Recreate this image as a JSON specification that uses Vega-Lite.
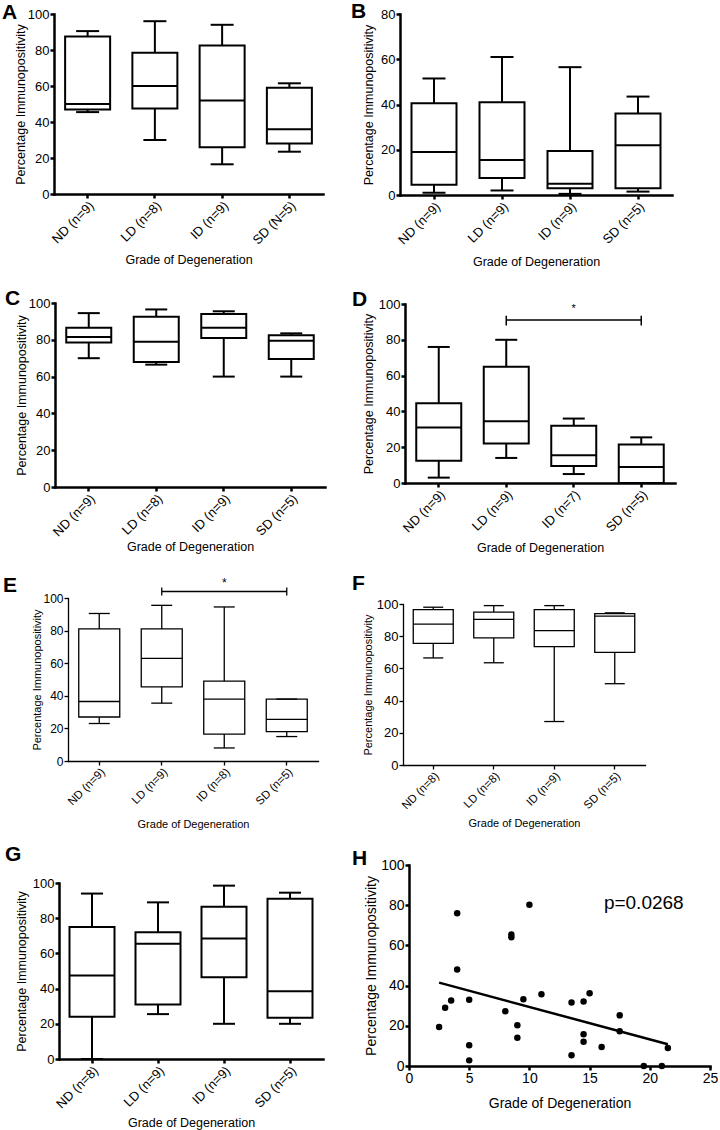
{
 "$schema": "https://vega.github.io/schema/vega-lite/v6.json",
 "background": "white",
 "padding": {"left": 2, "top": 0, "right": 0, "bottom": 0},
 "columns": 2,
 "spacing": {"row": 0, "column": 75},
 "bounds": "flush",
 "config": {
  "view": {"stroke": null},
  "axis": {"grid": false, "domainColor": "black", "tickColor": "black", "labelColor": "black", "titleColor": "black", "labelFont": "Liberation Sans", "titleFont": "Liberation Sans", "titleFontWeight": "normal", "domainWidth": 2.5, "tickWidth": 2.5, "tickSize": 4, "labelPadding": 1, "labelFlush": false, "labelOverlap": false, "labelBound": false, "labelLimit": 0, "domainCap": "square"},
  "text": {"font": "Liberation Sans"}
 },
 "datasets": {
  "boxes": [
   {"panel": "A", "group": "ND (n=9)", "min": 45.5, "q1": 47, "median": 50, "q3": 87.5, "max": 90.5},
   {"panel": "A", "group": "LD (n=8)", "min": 30, "q1": 47.5, "median": 60, "q3": 78.5, "max": 96},
   {"panel": "A", "group": "ID  (n=9)", "min": 16.5, "q1": 26, "median": 52, "q3": 82.5, "max": 94},
   {"panel": "A", "group": "SD (N=5)", "min": 23.5, "q1": 28, "median": 36, "q3": 59, "max": 61.5},
   {"panel": "B", "group": "ND (n=9)", "min": 1, "q1": 4.5, "median": 19, "q3": 40.5, "max": 51.5},
   {"panel": "B", "group": "LD (n=9)", "min": 2, "q1": 7.5, "median": 15.5, "q3": 41, "max": 61},
   {"panel": "B", "group": "ID (n=9)", "min": 0.5, "q1": 3, "median": 5, "q3": 19.5, "max": 56.5},
   {"panel": "B", "group": "SD (n=5)", "min": 1.5, "q1": 3, "median": 22, "q3": 36, "max": 43.5},
   {"panel": "C", "group": "ND (n=9)", "min": 70, "q1": 78.5, "median": 81.5, "q3": 86.5, "max": 94.5},
   {"panel": "C", "group": "LD (n=8)", "min": 66.5, "q1": 68, "median": 79, "q3": 92.5, "max": 96.5},
   {"panel": "C", "group": "ID (n=9)", "min": 60, "q1": 81, "median": 86.5, "q3": 94, "max": 95.5},
   {"panel": "C", "group": "SD (n=5)", "min": 60, "q1": 69.5, "median": 79.5, "q3": 82.5, "max": 83.5},
   {"panel": "D", "group": "ND (n=9)", "min": 3, "q1": 12.5, "median": 31, "q3": 44.5, "max": 76},
   {"panel": "D", "group": "LD (n=9)", "min": 14, "q1": 22, "median": 34.5, "q3": 65, "max": 80},
   {"panel": "D", "group": "ID (n=7)", "min": 5, "q1": 9.5, "median": 15.5, "q3": 32, "max": 36},
   {"panel": "D", "group": "SD (n=5)", "min": 0, "q1": 0, "median": 9, "q3": 21.5, "max": 25.5},
   {"panel": "E", "group": "ND (n=9)", "min": 23, "q1": 27, "median": 36.5, "q3": 81, "max": 90.5},
   {"panel": "E", "group": "LD  (n=9)", "min": 35.5, "q1": 45.5, "median": 63, "q3": 81, "max": 95.5},
   {"panel": "E", "group": "ID (n=8)", "min": 8, "q1": 16.5, "median": 38, "q3": 49, "max": 94.5},
   {"panel": "E", "group": "SD (n=5)", "min": 15, "q1": 18, "median": 25.5, "q3": 38, "max": 38},
   {"panel": "F", "group": "ND (n=8)", "min": 66.5, "q1": 75.5, "median": 87.5, "q3": 96.5, "max": 98},
   {"panel": "F", "group": "LD (n=8)", "min": 63.5, "q1": 79, "median": 90.5, "q3": 95, "max": 99},
   {"panel": "F", "group": "ID (n=9)", "min": 27, "q1": 73.5, "median": 83.5, "q3": 96.5, "max": 99},
   {"panel": "F", "group": "SD (n=5)", "min": 50.5, "q1": 70, "median": 92.5, "q3": 94, "max": 94.5},
   {"panel": "G", "group": "ND (n=8)", "min": 0, "q1": 24, "median": 47.5, "q3": 75, "max": 94},
   {"panel": "G", "group": "LD (n=9)", "min": 25.5, "q1": 31, "median": 65.5, "q3": 72, "max": 89},
   {"panel": "G", "group": "ID (n=9)", "min": 20, "q1": 46.5, "median": 68.5, "q3": 86.5, "max": 98.5},
   {"panel": "G", "group": "SD (n=5)", "min": 20, "q1": 23.5, "median": 38.5, "q3": 91, "max": 94.5}
  ],
  "brackets": [
   {"panel": "D", "a": "LD (n=9)", "b": "SD (n=5)", "mid": "ID (n=7)", "y": 91, "lo": 88, "hi": 93.5, "sy": 97},
   {"panel": "E", "a": "LD  (n=9)", "b": "SD (n=5)", "mid": "ID (n=8)", "y": 104, "lo": 101.5, "hi": 106.5, "sy": 109}
  ],
  "hpoints": [
   {"grade": 2.5, "pct": 19.4}, {"grade": 3, "pct": 29}, {"grade": 3.5, "pct": 32.6}, {"grade": 4, "pct": 76},
   {"grade": 4, "pct": 48}, {"grade": 5, "pct": 33}, {"grade": 5, "pct": 10.3}, {"grade": 5, "pct": 2.8},
   {"grade": 8, "pct": 27.2}, {"grade": 8.5, "pct": 65.4}, {"grade": 8.5, "pct": 64}, {"grade": 9, "pct": 20.3},
   {"grade": 9, "pct": 14}, {"grade": 9.5, "pct": 33.2}, {"grade": 10, "pct": 80.2}, {"grade": 11, "pct": 35.7},
   {"grade": 13.5, "pct": 31.6}, {"grade": 13.5, "pct": 5.3}, {"grade": 14.5, "pct": 32.1}, {"grade": 14.5, "pct": 15.8},
   {"grade": 14.5, "pct": 12.1}, {"grade": 15, "pct": 36.2}, {"grade": 16, "pct": 9.5}, {"grade": 17.5, "pct": 25.2},
   {"grade": 17.5, "pct": 17.3}, {"grade": 19.5, "pct": 0}, {"grade": 21, "pct": 0}, {"grade": 21.5, "pct": 9}
  ],
  "hline": [{"grade": 2.5, "pct": 41.5}, {"grade": 21.5, "pct": 10.8}],
  "hlabel": [{"grade": 19.5, "pct": 81, "label": "p=0.0268"}]
 },
 "concat": [
  {
   "width": 271, "height": 180,
   "title": {"text": "A", "anchor": "start", "frame": "group", "offset": 0, "baseline": "alphabetic", "dx": -52, "dy": 31.5, "fontSize": 21, "fontWeight": "bold", "font": "Liberation Sans", "color": "black"},
   "data": {"name": "boxes"},
   "transform": [{"filter": "datum.panel === 'A'"}],
   "encoding": {
    "x": {"field": "group", "type": "nominal", "title": "Grade of Degeneration",
     "scale": {"domain": ["ND (n=9)", "LD (n=8)", "ID  (n=9)", "SD (N=5)"], "range": [0, 269], "paddingInner": 0, "paddingOuter": 0},
     "axis": {"labelAngle": -45, "labelFontSize": 13, "titleFontSize": 12.5, "titlePadding": 7, "labelOverlap": false}},
    "y": {"field": "min", "type": "quantitative", "title": "Percentage Immunopositivity", "scale": {"domain": [0, 100], "range": [180, 0], "nice": false}, "axis": {"tickCount": 5, "offset": 0, "labelFontSize": 13, "titleFontSize": 12.5, "titlePadding": 0, "labelOverlap": false}}
   },
   "layer": [
    {"mark": {"type": "rule", "color": "black", "strokeWidth": 2},
     "encoding": {"y2": {"field": "max"}}},
    {"mark": {"type": "bar", "fill": "white", "stroke": "black", "strokeWidth": 2, "width": 45},
     "encoding": {"y": {"field": "q1", "type": "quantitative", "title": "Percentage Immunopositivity", "axis": {"tickCount": 5, "offset": 0, "labelFontSize": 13, "titleFontSize": 12.5, "titlePadding": 0, "labelOverlap": false}}, "y2": {"field": "q3"}}},
    {"mark": {"type": "tick", "color": "black", "thickness": 2, "size": 45, "opacity": 1},
     "encoding": {"y": {"field": "median", "type": "quantitative", "title": "Percentage Immunopositivity", "axis": {"tickCount": 5, "offset": 0, "labelFontSize": 13, "titleFontSize": 12.5, "titlePadding": 0, "labelOverlap": false}}}},
    {"mark": {"type": "tick", "color": "black", "thickness": 2, "size": 23, "opacity": 1},
     "encoding": {}},
    {"mark": {"type": "tick", "color": "black", "thickness": 2, "size": 23, "opacity": 1},
     "encoding": {"y": {"field": "max", "type": "quantitative", "title": "Percentage Immunopositivity", "axis": {"tickCount": 5, "offset": 0, "labelFontSize": 13, "titleFontSize": 12.5, "titlePadding": 0, "labelOverlap": false}}}}
   ]
  },
  {
   "width": 310, "height": 181,
   "title": {"text": "B", "anchor": "start", "frame": "group", "offset": 0, "baseline": "alphabetic", "dx": -49, "dy": 30.5, "fontSize": 21, "fontWeight": "bold", "font": "Liberation Sans", "color": "black"},
   "data": {"name": "boxes"},
   "transform": [{"filter": "datum.panel === 'B'"}],
   "encoding": {
    "x": {"field": "group", "type": "nominal", "title": "Grade of Degeneration",
     "scale": {"domain": ["ND (n=9)", "LD (n=9)", "ID (n=9)", "SD (n=5)"], "range": [0, 272], "paddingInner": 0, "paddingOuter": 0},
     "axis": {"labelAngle": -45, "labelFontSize": 13, "titleFontSize": 12.5, "titlePadding": 9, "labelOverlap": false}}
   },
   "layer": [
    {"mark": {"type": "rule", "color": "black", "strokeWidth": 2},
     "encoding": {"y": {"field": "min", "type": "quantitative", "title": "Percentage Immunopositivity", "scale": {"domain": [0, 80], "range": [181, 0], "nice": false}, "axis": {"values": [0, 20, 40, 60, 80], "offset": 0, "labelFontSize": 13, "titleFontSize": 12.5, "titlePadding": 5, "labelOverlap": false}}, "y2": {"field": "max"}}},
    {"mark": {"type": "bar", "fill": "white", "stroke": "black", "strokeWidth": 2, "width": 45},
     "encoding": {"y": {"field": "q1", "type": "quantitative", "title": "Percentage Immunopositivity"}, "y2": {"field": "q3"}}},
    {"mark": {"type": "tick", "color": "black", "thickness": 2, "size": 45, "opacity": 1},
     "encoding": {"y": {"field": "median", "type": "quantitative", "title": "Percentage Immunopositivity"}}},
    {"mark": {"type": "tick", "color": "black", "thickness": 2, "size": 23, "opacity": 1},
     "encoding": {"y": {"field": "min", "type": "quantitative", "title": "Percentage Immunopositivity"}}},
    {"mark": {"type": "tick", "color": "black", "thickness": 2, "size": 23, "opacity": 1},
     "encoding": {"y": {"field": "max", "type": "quantitative", "title": "Percentage Immunopositivity"}}}
   ]
  },
  {
   "width": 271, "height": 292,
   "title": {"text": "C", "anchor": "start", "frame": "group", "offset": 0, "baseline": "alphabetic", "dx": -49, "dy": 131, "fontSize": 21, "fontWeight": "bold", "font": "Liberation Sans", "color": "black"},
   "data": {"name": "boxes"},
   "transform": [{"filter": "datum.panel === 'C'"}],
   "encoding": {
    "x": {"field": "group", "type": "nominal", "title": "Grade of Degeneration",
     "scale": {"domain": ["ND (n=9)", "LD (n=8)", "ID (n=9)", "SD (n=5)"], "range": [1, 271], "paddingInner": 0, "paddingOuter": 0},
     "axis": {"labelAngle": -45, "labelFontSize": 13, "titleFontSize": 12.5, "titlePadding": 2, "labelOverlap": false}}
   },
   "layer": [
    {"mark": {"type": "rule", "color": "black", "strokeWidth": 2},
     "encoding": {"y": {"field": "min", "type": "quantitative", "title": "Percentage Immunopositivity", "scale": {"domain": [0, 100], "range": [292, 108], "nice": false}, "axis": {"values": [0, 20, 40, 60, 80, 100], "offset": -1, "labelFontSize": 13, "titleFontSize": 12.5, "titlePadding": 0, "labelOverlap": false}}, "y2": {"field": "max"}}},
    {"mark": {"type": "bar", "fill": "white", "stroke": "black", "strokeWidth": 2, "width": 45},
     "encoding": {"y": {"field": "q1", "type": "quantitative", "title": "Percentage Immunopositivity"}, "y2": {"field": "q3"}}},
    {"mark": {"type": "tick", "color": "black", "thickness": 2, "size": 45, "opacity": 1},
     "encoding": {"y": {"field": "median", "type": "quantitative", "title": "Percentage Immunopositivity"}}},
    {"mark": {"type": "tick", "color": "black", "thickness": 2, "size": 22, "opacity": 1},
     "encoding": {"y": {"field": "min", "type": "quantitative", "title": "Percentage Immunopositivity"}}},
    {"mark": {"type": "tick", "color": "black", "thickness": 2, "size": 22, "opacity": 1},
     "encoding": {"y": {"field": "max", "type": "quantitative", "title": "Percentage Immunopositivity"}}}
   ]
  },
  {
   "width": 310, "height": 288,
   "title": {"text": "D", "anchor": "start", "frame": "group", "offset": 0, "baseline": "alphabetic", "dx": -48, "dy": 132, "fontSize": 21, "fontWeight": "bold", "font": "Liberation Sans", "color": "black"},
   "data": {"name": "boxes"},
   "transform": [{"filter": "datum.panel === 'D'"}],
   "encoding": {
    "x": {"field": "group", "type": "nominal", "title": "Grade of Degeneration",
     "scale": {"domain": ["ND (n=9)", "LD (n=9)", "ID (n=7)", "SD (n=5)"], "range": [5, 275], "paddingInner": 0, "paddingOuter": 0},
     "axis": {"labelAngle": -45, "labelFontSize": 13, "titleFontSize": 12.5, "titlePadding": 7, "labelOverlap": false}}
   },
   "layer": [
    {"mark": {"type": "rule", "color": "black", "strokeWidth": 2},
     "encoding": {"y": {"field": "min", "type": "quantitative", "title": "Percentage Immunopositivity", "scale": {"domain": [0, 100], "range": [288, 109], "nice": false}, "axis": {"values": [0, 20, 40, 60, 80, 100], "offset": -5, "labelFontSize": 13, "titleFontSize": 12.5, "titlePadding": 3, "labelOverlap": false}}, "y2": {"field": "max"}}},
    {"mark": {"type": "bar", "fill": "white", "stroke": "black", "strokeWidth": 2, "width": 45},
     "encoding": {"y": {"field": "q1", "type": "quantitative", "title": "Percentage Immunopositivity"}, "y2": {"field": "q3"}}},
    {"mark": {"type": "tick", "color": "black", "thickness": 2, "size": 45, "opacity": 1},
     "encoding": {"y": {"field": "median", "type": "quantitative", "title": "Percentage Immunopositivity"}}},
    {"mark": {"type": "tick", "color": "black", "thickness": 2, "size": 22, "opacity": 1},
     "encoding": {"y": {"field": "min", "type": "quantitative", "title": "Percentage Immunopositivity"}}},
    {"mark": {"type": "tick", "color": "black", "thickness": 2, "size": 22, "opacity": 1},
     "encoding": {"y": {"field": "max", "type": "quantitative", "title": "Percentage Immunopositivity"}}},
    {"data": {"name": "brackets"}, "transform": [{"filter": "datum.panel === 'D'"}],
     "mark": {"type": "rule", "color": "black", "strokeWidth": 1.5},
     "encoding": {"x": {"field": "a", "type": "nominal", "title": "Grade of Degeneration"}, "x2": {"field": "b"}, "y": {"field": "y", "type": "quantitative", "title": "Percentage Immunopositivity"}}},
    {"data": {"name": "brackets"}, "transform": [{"filter": "datum.panel === 'D'"}],
     "mark": {"type": "rule", "color": "black", "strokeWidth": 1.5},
     "encoding": {"x": {"field": "a", "type": "nominal", "title": "Grade of Degeneration"}, "y": {"field": "lo", "type": "quantitative", "title": "Percentage Immunopositivity"}, "y2": {"field": "hi"}}},
    {"data": {"name": "brackets"}, "transform": [{"filter": "datum.panel === 'D'"}],
     "mark": {"type": "rule", "color": "black", "strokeWidth": 1.5},
     "encoding": {"x": {"field": "b", "type": "nominal", "title": "Grade of Degeneration"}, "y": {"field": "lo", "type": "quantitative", "title": "Percentage Immunopositivity"}, "y2": {"field": "hi"}}},
    {"data": {"name": "brackets"}, "transform": [{"filter": "datum.panel === 'D'"}],
     "mark": {"type": "text", "text": "*", "fontSize": 11, "color": "black", "baseline": "middle"},
     "encoding": {"x": {"field": "mid", "type": "nominal", "title": "Grade of Degeneration"}, "y": {"field": "sy", "type": "quantitative", "title": "Percentage Immunopositivity"}}}
   ]
  },
  {
   "width": 271, "height": 274,
   "title": {"text": "E", "anchor": "start", "frame": "group", "offset": 0, "baseline": "alphabetic", "dx": -51, "dy": 126, "fontSize": 21, "fontWeight": "bold", "font": "Liberation Sans", "color": "black"},
   "data": {"name": "boxes"},
   "transform": [{"filter": "datum.panel === 'E'"}],
   "encoding": {
    "x": {"field": "group", "type": "nominal", "title": "Grade of Degeneration",
     "scale": {"domain": ["ND (n=9)", "LD  (n=9)", "ID (n=8)", "SD (n=5)"], "range": [14, 264], "paddingInner": 0, "paddingOuter": 0},
     "axis": {"labelAngle": -45, "labelFontSize": 11.5, "titleFontSize": 11, "titlePadding": 10, "domainWidth": 1.3, "tickWidth": 1.3, "labelOverlap": false}}
   },
   "layer": [
    {"mark": {"type": "rule", "color": "black", "strokeWidth": 1.3},
     "encoding": {"y": {"field": "min", "type": "quantitative", "title": "Percentage Immunopositivity", "scale": {"domain": [0, 100], "range": [274, 111], "nice": false}, "axis": {"values": [0, 20, 40, 60, 80, 100], "offset": -14, "labelFontSize": 12, "titleFontSize": 11, "titlePadding": 0, "domainWidth": 1.3, "tickWidth": 1.3, "labelOverlap": false}}, "y2": {"field": "max"}}},
    {"mark": {"type": "bar", "fill": "white", "stroke": "black", "strokeWidth": 1.3, "width": 41},
     "encoding": {"y": {"field": "q1", "type": "quantitative", "title": "Percentage Immunopositivity"}, "y2": {"field": "q3"}}},
    {"mark": {"type": "tick", "color": "black", "thickness": 1.3, "size": 41, "opacity": 1},
     "encoding": {"y": {"field": "median", "type": "quantitative", "title": "Percentage Immunopositivity"}}},
    {"mark": {"type": "tick", "color": "black", "thickness": 1.3, "size": 21, "opacity": 1},
     "encoding": {"y": {"field": "min", "type": "quantitative", "title": "Percentage Immunopositivity"}}},
    {"mark": {"type": "tick", "color": "black", "thickness": 1.3, "size": 21, "opacity": 1},
     "encoding": {"y": {"field": "max", "type": "quantitative", "title": "Percentage Immunopositivity"}}},
    {"data": {"name": "brackets"}, "transform": [{"filter": "datum.panel === 'E'"}],
     "mark": {"type": "rule", "color": "black", "strokeWidth": 1.3},
     "encoding": {"x": {"field": "a", "type": "nominal", "title": "Grade of Degeneration"}, "x2": {"field": "b"}, "y": {"field": "y", "type": "quantitative", "title": "Percentage Immunopositivity"}}},
    {"data": {"name": "brackets"}, "transform": [{"filter": "datum.panel === 'E'"}],
     "mark": {"type": "rule", "color": "black", "strokeWidth": 1.3},
     "encoding": {"x": {"field": "a", "type": "nominal", "title": "Grade of Degeneration"}, "y": {"field": "lo", "type": "quantitative", "title": "Percentage Immunopositivity"}, "y2": {"field": "hi"}}},
    {"data": {"name": "brackets"}, "transform": [{"filter": "datum.panel === 'E'"}],
     "mark": {"type": "rule", "color": "black", "strokeWidth": 1.3},
     "encoding": {"x": {"field": "b", "type": "nominal", "title": "Grade of Degeneration"}, "y": {"field": "lo", "type": "quantitative", "title": "Percentage Immunopositivity"}, "y2": {"field": "hi"}}},
    {"data": {"name": "brackets"}, "transform": [{"filter": "datum.panel === 'E'"}],
     "mark": {"type": "text", "text": "*", "fontSize": 12, "color": "black", "baseline": "middle"},
     "encoding": {"x": {"field": "mid", "type": "nominal", "title": "Grade of Degeneration"}, "y": {"field": "sy", "type": "quantitative", "title": "Percentage Immunopositivity"}}}
   ]
  },
  {
   "width": 310, "height": 278,
   "title": {"text": "F", "anchor": "start", "frame": "group", "offset": 0, "baseline": "alphabetic", "dx": -48, "dy": 124, "fontSize": 21, "fontWeight": "bold", "font": "Liberation Sans", "color": "black"},
   "data": {"name": "boxes"},
   "transform": [{"filter": "datum.panel === 'F'"}],
   "encoding": {
    "x": {"field": "group", "type": "nominal", "title": "Grade of Degeneration",
     "scale": {"domain": ["ND (n=8)", "LD (n=8)", "ID (n=9)", "SD (n=5)"], "range": [3, 245], "paddingInner": 0, "paddingOuter": 0},
     "axis": {"labelAngle": -45, "labelFontSize": 11.5, "titleFontSize": 11, "titlePadding": 6, "domainWidth": 1.3, "tickWidth": 1.3, "labelOverlap": false}}
   },
   "layer": [
    {"mark": {"type": "rule", "color": "black", "strokeWidth": 1.3},
     "encoding": {"y": {"field": "min", "type": "quantitative", "title": "Percentage Immunopositivity", "scale": {"domain": [0, 100], "range": [278, 117], "nice": false}, "axis": {"values": [0, 20, 40, 60, 80, 100], "offset": -3, "labelFontSize": 13, "titleFontSize": 11, "titlePadding": 3, "domainWidth": 1.3, "tickWidth": 1.3, "labelOverlap": false}}, "y2": {"field": "max"}}},
    {"mark": {"type": "bar", "fill": "white", "stroke": "black", "strokeWidth": 1.3, "width": 40},
     "encoding": {"y": {"field": "q1", "type": "quantitative", "title": "Percentage Immunopositivity"}, "y2": {"field": "q3"}}},
    {"mark": {"type": "tick", "color": "black", "thickness": 1.3, "size": 40, "opacity": 1},
     "encoding": {"y": {"field": "median", "type": "quantitative", "title": "Percentage Immunopositivity"}}},
    {"mark": {"type": "tick", "color": "black", "thickness": 1.3, "size": 20, "opacity": 1},
     "encoding": {"y": {"field": "min", "type": "quantitative", "title": "Percentage Immunopositivity"}}},
    {"mark": {"type": "tick", "color": "black", "thickness": 1.3, "size": 20, "opacity": 1},
     "encoding": {"y": {"field": "max", "type": "quantitative", "title": "Percentage Immunopositivity"}}}
   ]
  },
  {
   "width": 271, "height": 294,
   "title": {"text": "G", "anchor": "start", "frame": "group", "offset": 0, "baseline": "alphabetic", "dx": -49, "dy": 117, "fontSize": 21, "fontWeight": "bold", "font": "Liberation Sans", "color": "black"},
   "data": {"name": "boxes"},
   "transform": [{"filter": "datum.panel === 'G'"}],
   "encoding": {
    "x": {"field": "group", "type": "nominal", "title": "Grade of Degeneration",
     "scale": {"domain": ["ND (n=8)", "LD (n=9)", "ID (n=9)", "SD (n=5)"], "range": [5, 269], "paddingInner": 0, "paddingOuter": 0},
     "axis": {"labelAngle": -45, "labelFontSize": 13, "titleFontSize": 12.5, "titlePadding": 6, "labelOverlap": false}}
   },
   "layer": [
    {"mark": {"type": "rule", "color": "black", "strokeWidth": 2},
     "encoding": {"y": {"field": "min", "type": "quantitative", "title": "Percentage Immunopositivity", "scale": {"domain": [0, 100], "range": [294, 118], "nice": false}, "axis": {"values": [0, 20, 40, 60, 80, 100], "offset": -5, "labelFontSize": 13, "titleFontSize": 12.5, "titlePadding": 4, "labelOverlap": false}}, "y2": {"field": "max"}}},
    {"mark": {"type": "bar", "fill": "white", "stroke": "black", "strokeWidth": 2, "width": 45},
     "encoding": {"y": {"field": "q1", "type": "quantitative", "title": "Percentage Immunopositivity"}, "y2": {"field": "q3"}}},
    {"mark": {"type": "tick", "color": "black", "thickness": 2, "size": 45, "opacity": 1},
     "encoding": {"y": {"field": "median", "type": "quantitative", "title": "Percentage Immunopositivity"}}},
    {"mark": {"type": "tick", "color": "black", "thickness": 2, "size": 22, "opacity": 1},
     "encoding": {"y": {"field": "min", "type": "quantitative", "title": "Percentage Immunopositivity"}}},
    {"mark": {"type": "tick", "color": "black", "thickness": 2, "size": 22, "opacity": 1},
     "encoding": {"y": {"field": "max", "type": "quantitative", "title": "Percentage Immunopositivity"}}}
   ]
  },
  {
   "width": 310, "height": 301,
   "title": {"text": "H", "anchor": "start", "frame": "group", "offset": 0, "baseline": "alphabetic", "dx": -48, "dy": 121, "fontSize": 21, "fontWeight": "bold", "font": "Liberation Sans", "color": "black"},
   "layer": [
    {"data": {"name": "hpoints"},
     "mark": {"type": "circle", "color": "black", "opacity": 1, "size": 42},
     "encoding": {
      "x": {"field": "grade", "type": "quantitative", "title": "Grade of Degeneration", "scale": {"domain": [0, 25], "range": [9, 310], "nice": false, "zero": false}, "axis": {"values": [0, 5, 10, 15, 20, 25], "labelAngle": 0, "labelFontSize": 14, "titleFontSize": 14, "titlePadding": 11, "labelOverlap": false}},
      "y": {"field": "pct", "type": "quantitative", "title": "Percentage Immunopositivity", "scale": {"domain": [0, 100], "range": [301, 100], "nice": false}, "axis": {"values": [0, 20, 40, 60, 80, 100], "offset": -9, "labelFontSize": 14, "titleFontSize": 14, "titlePadding": 2.5, "labelOverlap": false}}
     }},
    {"data": {"name": "hline"},
     "mark": {"type": "line", "color": "black", "strokeWidth": 2.5},
     "encoding": {"x": {"field": "grade", "type": "quantitative", "title": "Grade of Degeneration"}, "y": {"field": "pct", "type": "quantitative", "title": "Percentage Immunopositivity"}}},
    {"data": {"name": "hlabel"},
     "mark": {"type": "text", "fontSize": 19, "font": "Liberation Sans", "color": "black", "align": "center", "baseline": "middle"},
     "encoding": {"x": {"field": "grade", "type": "quantitative", "title": "Grade of Degeneration"}, "y": {"field": "pct", "type": "quantitative", "title": "Percentage Immunopositivity"}, "text": {"field": "label"}}}
   ]
  }
 ]
}
